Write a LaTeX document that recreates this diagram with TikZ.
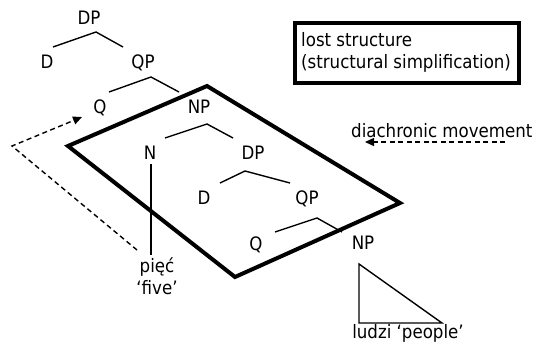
\documentclass[tikz,border=0pt]{standalone}
\usepackage{fontspec}
\setmainfont{DejaVu Sans Condensed}
\usetikzlibrary{arrows.meta}

\begin{document}
\begin{tikzpicture}[x=1pt,y=-1pt,
  lbl/.style={font=\fontsize{18.5}{22}\selectfont, inner sep=0pt, anchor=base},
  branch/.style={line width=1.4pt},
  plane/.style={line width=4pt, line join=miter},
  movearrow/.style={line width=1.4pt, dash pattern=on 5pt off 3.5pt,
    -{Triangle[length=9pt,width=8pt]}},
  framebox/.style={draw, line width=3.4pt, minimum width=224pt, minimum height=60pt, inner sep=0pt}]
\useasboundingbox (0,0) rectangle (539,343);

% upper part of the tree
\node[lbl] (dp1) at (89,24) {DP};
\node[lbl] (d1)  at (47,68.5) {D};
\node[lbl] (qp1) at (143,68.5) {QP};
\node[lbl] (q1)  at (100,113) {Q};
\node[lbl] (np1) at (199,113) {NP};
\node[lbl] (n1)  at (150,159) {N};
\node[lbl] (dp2) at (253,159) {DP};
\node[lbl] (d2)  at (204,204) {D};
\node[lbl] (qp2) at (307,204) {QP};
\node[lbl] (q2)  at (256,250) {Q};
\node[lbl] (np2) at (363,249) {NP};
\node[lbl] (piec) at (157,272) {pięć};
\node[lbl] (five) at (157,294) {‘five’};
\node[lbl] (ludzi) at (408,338) {ludzi ‘people’};

% branch points
\coordinate (b1) at (96,32);   \coordinate (b1l) at (53,47);   \coordinate (b1r) at (123,47);
\coordinate (b2) at (151,77);  \coordinate (b2l) at (109,92);  \coordinate (b2r) at (179,92);
\coordinate (b3) at (207,124); \coordinate (b3l) at (165,138); \coordinate (b3r) at (233,138);
\coordinate (b4) at (245,171); \coordinate (b4l) at (220,183); \coordinate (b4r) at (290,183);
\coordinate (b5) at (317,218); \coordinate (b5l) at (275,232); \coordinate (b5r) at (342,232);
\draw[branch] (b1l) -- (b1) -- (b1r);
\draw[branch] (b2l) -- (b2) -- (b2r);
\draw[branch] (b3l) -- (b3) -- (b3r);
\draw[branch] (b4l) -- (b4) -- (b4r);
\draw[branch] (b5l) -- (b5) -- (b5r);

% N down to the numeral
\coordinate (nTop) at (151,164);
\coordinate (nBot) at (151,255);
\draw[line width=1.2pt] (nTop) -- (nBot);

% triangle under the lower NP
\coordinate (t1) at (359,264);
\coordinate (t2) at (359,323);
\coordinate (t3) at (442,323);
\draw[branch, line join=miter] (t1) -- (t2) -- (t3) -- cycle;

% plane of lost structure
\coordinate (pT) at (207,86);
\coordinate (pL) at (68,146);
\coordinate (pB) at (235,277);
\coordinate (pR) at (400,203);
\draw[plane] (pT) -- (pR) -- (pB) -- (pL) -- cycle;

% legend box
\node[framebox] (legend) at (407,53) {};
\node[lbl, anchor=base west] (legA) at (301,46) {lost structure};
\node[lbl, anchor=base west] (legB) at (301,68) {(structural simplification)};

% movement arrows
\node[lbl, anchor=base west] (dia) at (351,137) {diachronic movement};
\coordinate (mS) at (505,142);
\coordinate (mE) at (365,142);
\draw[movearrow] (mS) -- (mE);

\coordinate (aS) at (137,250);
\coordinate (aC) at (12,146);
\coordinate (aE) at (82,117);
\draw[movearrow] (aS) -- (aC) -- (aE);
\end{tikzpicture}
\end{document}
